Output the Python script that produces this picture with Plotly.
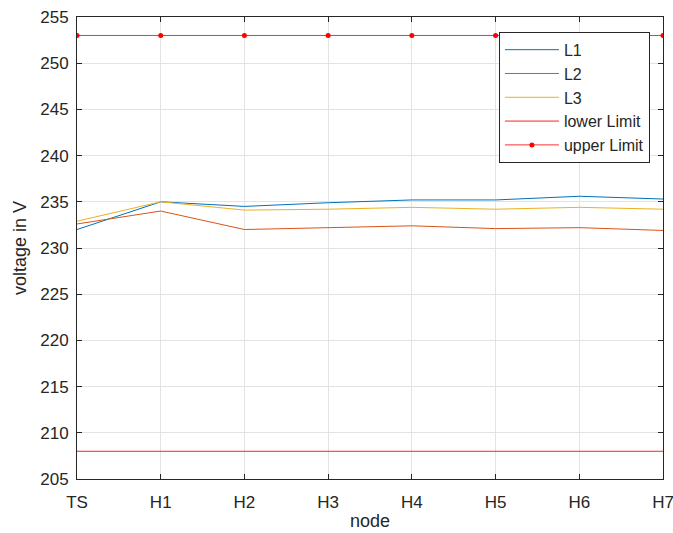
import plotly.graph_objects as go

nodes = ["TS", "H1", "H2", "H3", "H4", "H5", "H6", "H7"]
l1 = [232.0, 235.0, 234.5, 234.9, 235.2, 235.2, 235.6, 235.3]
l2 = [232.6, 234.0, 232.0, 232.2, 232.4, 232.1, 232.2, 231.9]
l3 = [232.9, 235.0, 234.1, 234.2, 234.4, 234.2, 234.4, 234.2]
lower_limit = 208
upper_limit = 253
y_ticks = [205, 210, 215, 220, 225, 230, 235, 240, 245, 250, 255]

xs = list(range(len(nodes)))
font_family = "Liberation Sans, Arial, sans-serif"
ink = "#262626"

fig = go.Figure()
fig.add_trace(go.Scatter(x=xs, y=l1, name="L1", mode="lines",
                         line=dict(color="#0072BD", width=1)))
fig.add_trace(go.Scatter(x=xs, y=l2, name="L2", mode="lines",
                         line=dict(color="#D95319", width=1)))
fig.add_trace(go.Scatter(x=xs, y=l3, name="L3", mode="lines",
                         line=dict(color="#EDB120", width=1)))
fig.add_trace(go.Scatter(x=xs, y=[lower_limit] * len(xs), name="lower Limit",
                         mode="lines", line=dict(color="#ff2020", width=1)))
fig.add_trace(go.Scatter(x=xs, y=[upper_limit] * len(xs), name="upper Limit",
                         mode="lines+markers",
                         line=dict(color="#ff3030", width=1),
                         marker=dict(color="#ff0000", size=5, symbol="circle")))

axis_common = dict(
    showline=True, linecolor="#262626", linewidth=1, mirror="ticks",
    ticks="inside", ticklen=5, tickcolor="#262626",
    showgrid=True, gridcolor="#e3e3e3", gridwidth=1, zeroline=False,
    tickfont=dict(family=font_family, size=17, color=ink),
    automargin=False, ticklabeloverflow="allow",
)

fig.update_xaxes(
    range=[0, len(nodes) - 1], tickmode="array", tickvals=xs, ticktext=nodes,
    ticklabelstandoff=8,
    **axis_common,
)
fig.update_yaxes(
    range=[205, 255], tickmode="array", tickvals=y_ticks,
    ticklabelstandoff=4,
    title=dict(text="voltage in V", font=dict(family=font_family, size=18, color=ink),
               standoff=8),
    **axis_common,
)

# x-axis label placed just below the tick labels
fig.add_annotation(
    text="node", xref="paper", yref="paper", x=0.5, y=0,
    xanchor="center", yanchor="top", yshift=-31, showarrow=False,
    borderpad=0,
    font=dict(family=font_family, size=18, color=ink),
)

fig.update_layout(
    width=673, height=533,
    margin=dict(l=77, r=10, t=17, b=54),
    paper_bgcolor="white", plot_bgcolor="white",
    font=dict(family=font_family, color=ink),
    legend=dict(
        x=0.72, y=0.968, xanchor="left", yanchor="top",
        bgcolor="white", bordercolor="#262626", borderwidth=1,
        font=dict(family=font_family, size=16, color=ink),
        itemwidth=54, tracegroupgap=0,
    ),
    showlegend=True,
)

fig.write_html("out.html")
